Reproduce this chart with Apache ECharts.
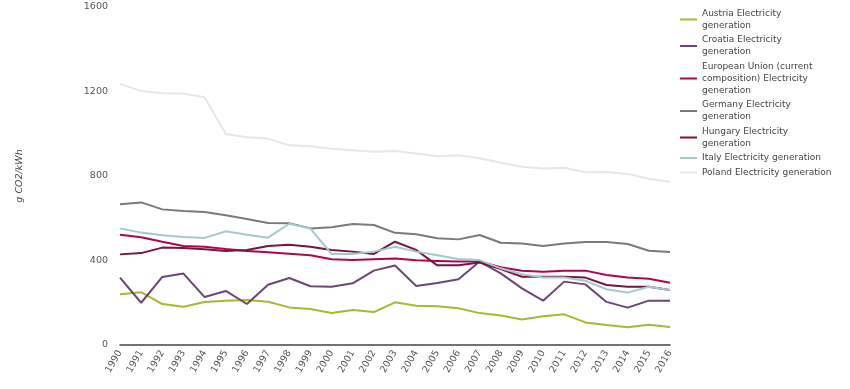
<!DOCTYPE html>
<html>
<head>
<meta charset="utf-8">
<script src="https://cdn.jsdelivr.net/npm/echarts@6/dist/echarts.min.js"></script>
<style>html,body{margin:0;padding:0;background:#fff;}#c{width:850px;height:389px;}</style>
</head>
<body>
<div id="c"></div>
<script>
const years = ['1990','1991','1992','1993','1994','1995','1996','1997','1998','1999','2000','2001','2002','2003','2004','2005','2006','2007','2008','2009','2010','2011','2012','2013','2014','2015','2016'];
const yTicks = [0, 400, 800, 1200, 1600];
const austria = [240,250,194,181,204,210,213,205,178,170,151,166,156,202,186,183,174,151,140,121,136,145,107,95,84,96,85];
const croatia = [319,200,322,338,227,256,194,285,317,278,276,292,352,376,279,294,311,395,339,268,210,300,287,204,177,210,210];
const eu = [522,510,489,469,465,454,445,439,432,425,406,402,406,409,401,398,395,395,368,352,347,352,352,331,320,314,295];
const germany = [666,675,642,634,630,614,596,578,576,552,557,573,568,531,524,505,500,521,484,481,469,481,488,488,478,446,440];
const hungary = [429,435,461,459,453,445,450,469,475,465,450,442,431,489,450,377,377,390,360,323,323,323,319,284,276,276,260];
const italy = [552,532,519,511,507,538,522,508,574,551,431,431,442,465,442,425,407,402,363,335,320,320,304,264,248,276,260];
const poland = [1236,1202,1192,1190,1173,999,983,977,945,941,929,922,915,918,907,893,898,884,863,844,835,839,818,819,810,787,773];

const seriesDefs = [
  ['Austria Electricity generation', austria, '#a9b82c', 'Austria Electricity\ngeneration'],
  ['Croatia Electricity generation', croatia, '#6c4676', 'Croatia Electricity\ngeneration'],
  ['European Union (current composition) Electricity generation', eu, '#b2044e', 'European Union (current\ncomposition) Electricity\ngeneration'],
  ['Germany Electricity generation', germany, '#7a7a7a', 'Germany Electricity\ngeneration'],
  ['Hungary Electricity generation', hungary, '#7a1242', 'Hungary Electricity\ngeneration'],
  ['Italy Electricity generation', italy, '#a2c9cc', 'Italy Electricity generation'],
  ['Poland Electricity generation', poland, '#e6e6e6', 'Poland Electricity generation']
];
const labelMap = {};
seriesDefs.forEach(d => labelMap[d[0]] = d[3]);

const chart = echarts.init(document.getElementById('c'));
chart.setOption({
  animation: false,
  textStyle: {fontFamily: 'DejaVu Sans'},
  grid: {left: 120, right: 180, top: 7, bottom: 44, containLabel: false},
  legend: {
    orient: 'vertical',
    left: 680,
    top: 9,
    padding: 0,
    itemWidth: 17,
    itemHeight: 2,
    itemGap: 5.5,
    icon: 'rect',
    data: seriesDefs.map(d => d[0]),
    formatter: n => labelMap[n],
    textStyle: {fontSize: 9, color: '#444', lineHeight: 12, fontFamily: 'DejaVu Sans', verticalAlign: 'top', padding: [-7, 0, 0, 0]}
  },
  xAxis: {
    type: 'category',
    data: years,
    boundaryGap: false,
    axisLine: {lineStyle: {color: '#444', width: 1.5}},
    axisTick: {show: false},
    axisLabel: {rotate: 60, fontSize: 9.5, color: '#555', margin: 6, interval: 0}
  },
  yAxis: {
    type: 'value',
    min: yTicks[0],
    max: yTicks[yTicks.length - 1],
    interval: 400,
    name: 'g CO2/kWh',
    nameLocation: 'middle',
    nameRotate: 90,
    nameGap: 95,
    nameTextStyle: {fontSize: 9.5, color: '#444', fontStyle: 'italic'},
    axisLine: {show: false},
    axisTick: {show: false},
    splitLine: {show: false},
    axisLabel: {fontSize: 9.5, color: '#555', margin: 12, formatter: v => String(v)}
  },
  series: seriesDefs.map(d => ({
    name: d[0],
    type: 'line',
    data: d[1],
    symbol: 'none',
    showSymbol: false,
    lineStyle: {color: d[2], width: 2},
    itemStyle: {color: d[2]},
    z: 2
  }))
});
</script>
</body>
</html>
